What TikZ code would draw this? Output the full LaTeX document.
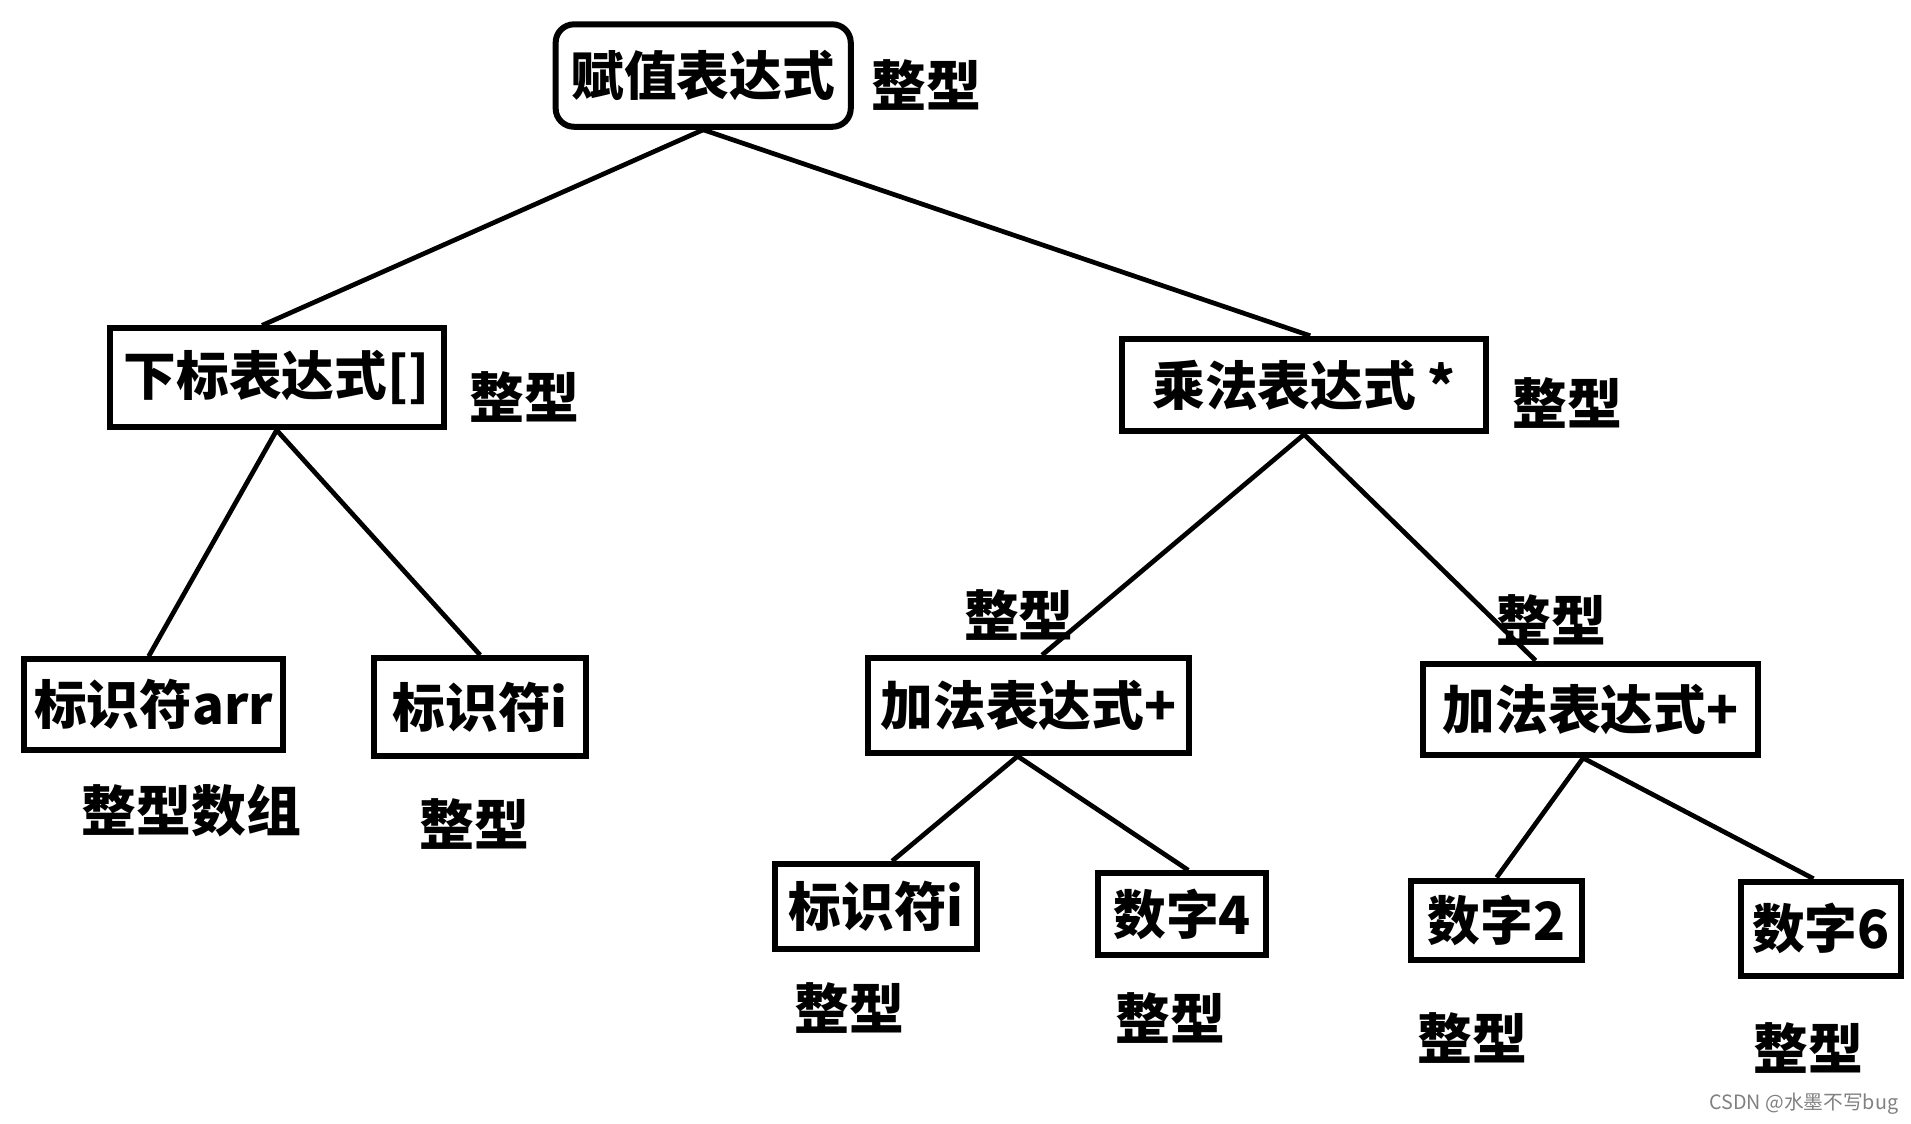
\documentclass[tikz,border=0pt]{standalone}
\usepackage{fontspec}
\setmainfont{Noto Sans CJK SC}
\usepackage{tikz}

\tikzset{
    expr/.style={draw, line width=1.4pt, inner sep=0pt, font=\fontsize{12.3pt}{14pt}\selectfont\bfseries},
    ty/.style={font=\fontsize{12.8pt}{14pt}\selectfont\bfseries},
    edge/.style={line width=1.1pt},
}

\begin{document}
\begin{tikzpicture}[x=0.01cm, y=-0.01cm]
    \useasboundingbox (0,0) rectangle (1568,922);

    \node[expr, rounded corners=0.15cm, minimum width=2.42cm, minimum height=0.84cm] (assign) at (577,62) {赋值表达式};
    \node[ty] (t-assign) at (760,70) {整型};
    \node[expr, minimum width=2.74cm, minimum height=0.81cm] (index) at (227,310) {下标表达式[]};
    \node[ty] (t-index) at (430,326) {整型};
    \node[expr, minimum width=2.99cm, minimum height=0.76cm] (mul) at (1070,316) {乘法表达式 *};
    \node[ty] (t-mul) at (1286,331) {整型};

    \node[expr, minimum width=2.13cm, minimum height=0.74cm] (arr) at (126,578) {标识符arr};
    \node[ty] (t-arr) at (157,665) {整型数组};
    \node[expr, minimum width=1.74cm, minimum height=0.80cm] (idi) at (394,580) {标识符i};
    \node[ty] (t-idi) at (389,676) {整型};
    \node[expr, minimum width=2.63cm, minimum height=0.78cm] (addl) at (844,579) {加法表达式+};
    \node[ty] (t-addl) at (836,505) {整型};
    \node[expr, minimum width=2.74cm, minimum height=0.75cm] (addr) at (1305,582) {加法表达式+};
    \node[ty] (t-addr) at (1273,509) {整型};

    \node[expr, minimum width=1.66cm, minimum height=0.70cm] (idi2) at (719,744) {标识符i};
    \node[ty] (t-idi2) at (697,827) {整型};
    \node[expr, minimum width=1.38cm, minimum height=0.67cm] (num4) at (970,750) {数字4};
    \node[ty] (t-num4) at (960,835) {整型};
    \node[expr, minimum width=1.40cm, minimum height=0.65cm] (num2) at (1228,755) {数字2};
    \node[ty] (t-num2) at (1208,852) {整型};
    \node[expr, minimum width=1.31cm, minimum height=0.77cm] (num6) at (1494,762) {数字6};
    \node[ty] (t-num6) at (1484,860) {整型};

    \draw[edge] (assign.south) -- ([xshift=-0.12cm]index.north);
    \draw[edge] (assign.south) -- ([xshift=0.05cm]mul.north);
    \draw[edge] (index.south) -- ([xshift=-0.04cm]arr.north);
    \draw[edge] (index.south) -- (idi.north);
    \draw[edge] (mul.south) -- ([xshift=0.11cm]addl.north);
    \draw[edge] (mul.south) -- ([xshift=-0.45cm]addr.north);
    \draw[edge] ([xshift=-0.09cm]addl.south) -- ([xshift=0.13cm]idi2.north);
    \draw[edge] ([xshift=-0.09cm]addl.south) -- ([xshift=0.05cm]num4.north);
    \draw[edge] ([xshift=-0.06cm]addr.south) -- (num2.north);
    \draw[edge] ([xshift=-0.06cm]addr.south) -- ([xshift=-0.06cm]num6.north);

    \node[text=gray, font=\fontsize{4.6pt}{5pt}\selectfont] (mark) at (1480,906) {CSDN @水墨不写bug};
\end{tikzpicture}
\end{document}
